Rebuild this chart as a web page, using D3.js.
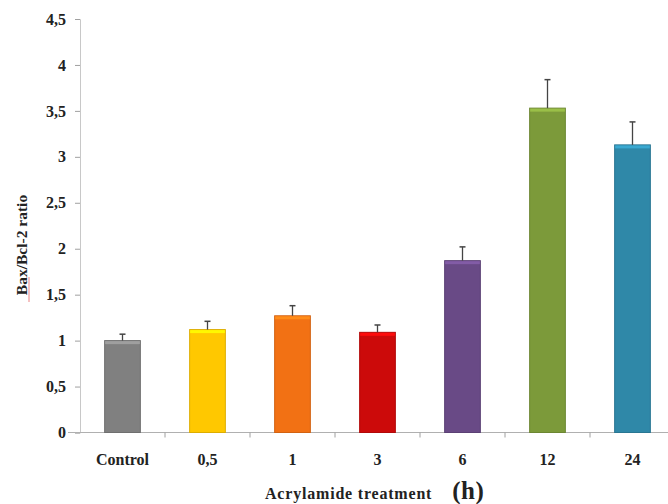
<!DOCTYPE html>
<html>
<head>
<meta charset="utf-8">
<script src="https://cdn.jsdelivr.net/npm/d3@7"></script>
<style>
  body { margin: 0; background: #fff; }
  text { font-family: "Liberation Serif", "Times New Roman", serif; font-weight: bold; }
</style>
</head>
<body>
<div id="chart"></div>
<script>
// data
var groups = ["Control", "0,5", "1", "3", "6", "12", "24"];
var ratios = [1.0, 1.12, 1.27, 1.09, 1.87, 3.53, 3.13];
var errors = [0.07, 0.09, 0.11, 0.08, 0.15, 0.31, 0.25];
var barColors = ["#808080", "#ffc800", "#f27114", "#cc0a0a", "#694a86", "#7c9a3a", "#2f88a8"];
var yTicks = [0, 0.5, 1, 1.5, 2, 2.5, 3, 3.5, 4, 4.5];

var margin = { top: 19, right: 0, bottom: 71, left: 80 },
    width = 668,
    height = 504;

var svg = d3.select("#chart")
    .append("svg")
    .attr("width", width)
    .attr("height", height);

var x = d3.scaleBand()
    .domain(groups)
    .range([margin.left, 675])
    .paddingInner(0.58)
    .paddingOuter(0.29);

var y = d3.scaleLinear()
    .domain([0, 4.5])
    .range([height - margin.bottom - 0.5, margin.top]);

var fmt = function (d) { return String(d).replace(".", ","); };

// Y axis
var yAxis = svg.append("g")
    .attr("transform", "translate(" + margin.left + ",0)")
    .call(d3.axisLeft(y).tickValues(yTicks).tickFormat(fmt).tickSize(5).tickPadding(9));
yAxis.select(".domain").attr("stroke", "#c8c8c8");
yAxis.selectAll(".tick line").attr("stroke", "#a0a0a0");
yAxis.selectAll("text").attr("font-size", 16).attr("fill", "#222");

// X axis (ticks between categories)
var bandStep = x.step();
var xBounds = d3.range(groups.length + 1).map(function (i) { return margin.left + i * bandStep; });
var xAxisG = svg.append("g");
xAxisG.append("line")
    .attr("x1", margin.left - 12).attr("x2", 675)
    .attr("y1", y(0)).attr("y2", y(0))
    .attr("stroke", "#b0b0b0");
xAxisG.selectAll(".xt")
    .data(xBounds.slice(1))
    .enter().append("line")
    .attr("x1", function (d) { return d; }).attr("x2", function (d) { return d; })
    .attr("y1", y(0)).attr("y2", y(0) + 5)
    .attr("stroke", "#a0a0a0");
xAxisG.selectAll(".xl")
    .data(groups)
    .enter().append("text")
    .attr("x", function (d) { return x(d) + x.bandwidth() / 2; })
    .attr("y", y(0) + 32)
    .attr("text-anchor", "middle")
    .attr("font-size", 16)
    .attr("fill", "#222")
    .text(function (d) { return d; });

// bars
var bars = svg.append("g").selectAll("g")
    .data(groups)
    .enter().append("g");

bars.append("rect")
    .attr("x", function (d) { return x(d); })
    .attr("y", function (d, i) { return y(ratios[i]); })
    .attr("width", x.bandwidth())
    .attr("height", function (d, i) { return y(0) - y(ratios[i]); })
    .attr("fill", function (d, i) { return barColors[i]; })
    .attr("stroke", function (d, i) { return d3.color(barColors[i]).darker(0.4); })
    .attr("stroke-width", 1);

// lighter top edge
bars.append("rect")
    .attr("x", function (d) { return x(d) + 0.5; })
    .attr("y", function (d, i) { return y(ratios[i]) + 0.5; })
    .attr("width", x.bandwidth() - 1)
    .attr("height", 3)
    .attr("fill", function (d, i) { return d3.color(barColors[i]).brighter(0.6); });

// error bars
bars.append("line")
    .attr("x1", function (d) { return x(d) + x.bandwidth() / 2; })
    .attr("x2", function (d) { return x(d) + x.bandwidth() / 2; })
    .attr("y1", function (d, i) { return y(ratios[i]); })
    .attr("y2", function (d, i) { return y(ratios[i] + errors[i]); })
    .attr("stroke", "#444")
    .attr("stroke-width", 1.3);
bars.append("line")
    .attr("x1", function (d) { return x(d) + x.bandwidth() / 2 - 3; })
    .attr("x2", function (d) { return x(d) + x.bandwidth() / 2 + 3; })
    .attr("y1", function (d, i) { return y(ratios[i] + errors[i]); })
    .attr("y2", function (d, i) { return y(ratios[i] + errors[i]); })
    .attr("stroke", "#444")
    .attr("stroke-width", 1.5);

// axis titles
svg.append("text")
    .attr("transform", "translate(27,245) rotate(-90)")
    .attr("text-anchor", "middle")
    .attr("font-size", 15.5)
    .attr("fill", "#222")
    .text("Bax/Bcl-2 ratio");
// red spellcheck underline under "Bax"
svg.append("line")
    .attr("x1", 29).attr("x2", 29)
    .attr("y1", 302).attr("y2", 277)
    .attr("stroke", "#e04040")
    .attr("stroke-width", 0.9)
    .attr("opacity", 0.7);

var xt = svg.append("text")
    .attr("x", 265)
    .attr("y", 499)
    .attr("font-size", 16)
    .attr("fill", "#222")
    .attr("letter-spacing", 0.8);
xt.append("tspan").text("Acrylamide treatment");
xt.append("tspan").attr("dx", 20).attr("font-size", 25).attr("letter-spacing", 0.5).text("(h)");
</script>
</body>
</html>
